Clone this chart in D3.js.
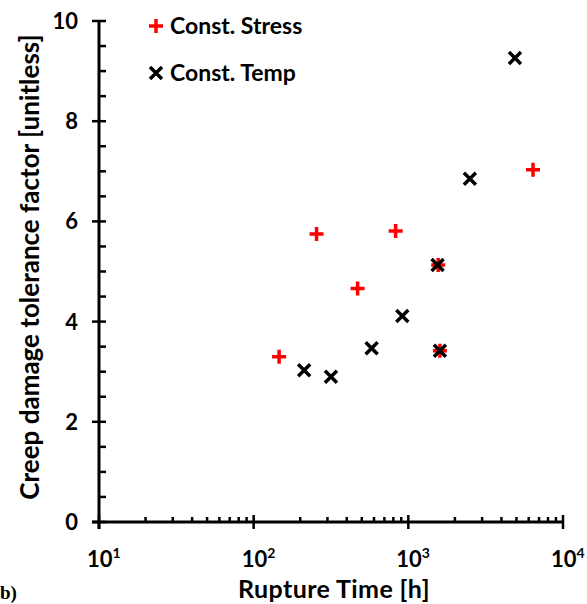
<!DOCTYPE html>
<html><head><meta charset="utf-8">
<script src="https://cdn.jsdelivr.net/npm/d3@7"></script>
<style>
html,body{margin:0;padding:0;background:#fff;}
svg text{font-family:Lato,"Open Sans",sans-serif;font-weight:700;fill:#000;}
</style></head>
<body>
<svg id="chart" width="587" height="604"></svg>
<script>
// Data
const stressTime = [146, 255, 470, 828, 1560, 1600, 6400];
const stressFactor = [3.30, 5.75, 4.66, 5.81, 5.13, 3.42, 7.03];
const tempTime = [212, 316, 579, 914, 1545, 1600, 2500, 4890];
const tempFactor = [3.03, 2.90, 3.47, 4.11, 5.13, 3.42, 6.85, 9.26];
const xTicks = [10, 100, 1000, 10000];
const xTickExp = ["1", "2", "3", "4"];
const yTicks = [0, 2, 4, 6, 8, 10];
const seriesNames = ["Const. Stress", "Const. Temp"];

const svg = d3.select("#chart");
const x = d3.scaleLog().domain([10, 10000]).range([99, 563]);
const y = d3.scaleLinear().domain([0, 10]).range([522, 21]);

// minor ticks
const xMinor = [];
for (let d = 10; d < 10000; d *= 10) for (let k = 2; k <= 9; k++) xMinor.push(d * k);
const yMinor = d3.range(0, 10.01, 0.5).filter(v => Math.abs(v % 2) > 0.01);

const ax = svg.append("g");
ax.selectAll(".ym").data(yMinor).enter().append("line")
  .attr("x1", x(10)).attr("x2", x(10) + 7)
  .attr("y1", d => y(d)).attr("y2", d => y(d))
  .attr("stroke", "#000").attr("stroke-width", 2.5);
ax.selectAll(".yM").data(yTicks).enter().append("line")
  .attr("x1", x(10) - 7).attr("x2", x(10) + 7)
  .attr("y1", d => y(d)).attr("y2", d => y(d))
  .attr("stroke", "#000").attr("stroke-width", 2.5);
ax.selectAll(".xm").data(xMinor).enter().append("line")
  .attr("x1", d => x(d)).attr("x2", d => x(d))
  .attr("y1", y(0)).attr("y2", y(0) - 5)
  .attr("stroke", "#000").attr("stroke-width", 2.5);
ax.selectAll(".xM").data(xTicks).enter().append("line")
  .attr("x1", d => x(d)).attr("x2", d => x(d))
  .attr("y1", y(0) - 7).attr("y2", y(0) + 7)
  .attr("stroke", "#000").attr("stroke-width", 2.5);
ax.append("line").attr("x1", x(10)).attr("x2", x(10)).attr("y1", y(10)).attr("y2", y(0) + 7)
  .attr("stroke", "#000").attr("stroke-width", 3);
ax.append("line").attr("x1", x(10) - 7).attr("x2", x(10000)).attr("y1", y(0)).attr("y2", y(0))
  .attr("stroke", "#000").attr("stroke-width", 3);

// y tick labels
svg.selectAll(".ytl").data(yTicks).enter().append("text")
  .attr("x", 78).attr("y", d => y(d)).attr("dy", "0.36em")
  .attr("text-anchor", "end").attr("font-size", 22).text(d => d);

// x tick labels
const xl = svg.selectAll(".xtl").data(xTicks).enter().append("text")
  .attr("x", d => x(d) - 12).attr("y", 567).attr("font-size", 22);
xl.append("tspan").text("10");
xl.append("tspan").attr("dy", -9).attr("font-size", 14).text((d, i) => xTickExp[i]);

// axis titles
svg.append("text").attr("x", 334).attr("y", 598).attr("text-anchor", "middle")
  .attr("font-size", 25).attr("letter-spacing", 0.4).text("Rupture Time [h]");
svg.append("text").attr("transform", "translate(39,267) rotate(-90)")
  .attr("text-anchor", "middle").attr("font-size", 26)
  .text("Creep damage tolerance factor [unitless]");
svg.append("text").attr("x", 0).attr("y", 599).attr("font-size", 19)
  .style("font-family", "'Liberation Serif',serif").text("b)");

// markers
const plusPath = s => `M${-s},0H${s}M0,${-s}V${s}`;
const crossPath = s => `M${-s},${-s}L${s},${s}M${-s},${s}L${s},${-s}`;

const stress = stressTime.map((t, i) => ({t, v: stressFactor[i]}));
const temp = tempTime.map((t, i) => ({t, v: tempFactor[i]}));

svg.selectAll(".sp").data(stress).enter().append("path")
  .attr("transform", d => `translate(${x(d.t)},${y(d.v)})`)
  .attr("d", plusPath(7)).attr("stroke", "#ff0000").attr("stroke-width", 3.5).attr("fill", "none");
svg.selectAll(".tp").data(temp).enter().append("path")
  .attr("transform", d => `translate(${x(d.t)},${y(d.v)})`)
  .attr("d", crossPath(6)).attr("stroke", "#000").attr("stroke-width", 3.5).attr("fill", "none");

// legend
const leg = svg.append("g");
leg.append("path").attr("transform", "translate(156,26)").attr("d", plusPath(7))
  .attr("stroke", "#ff0000").attr("stroke-width", 3.5).attr("fill", "none");
leg.append("text").attr("x", 170).attr("y", 26).attr("dy", "0.36em").attr("font-size", 23).text(seriesNames[0]);
leg.append("path").attr("transform", "translate(156,73)").attr("d", crossPath(6))
  .attr("stroke", "#000").attr("stroke-width", 3.5).attr("fill", "none");
leg.append("text").attr("x", 170).attr("y", 73).attr("dy", "0.36em").attr("font-size", 23).text(seriesNames[1]);
</script>
</body></html>
